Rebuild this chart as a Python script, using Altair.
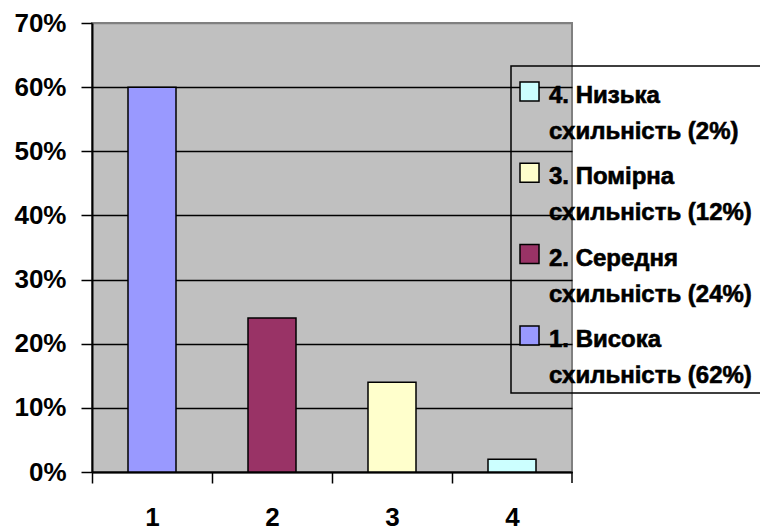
import altair as alt
import pandas as pd

# Bar chart data
categories = ["1", "2", "3", "4"]
shares = [0.60, 0.24, 0.14, 0.02]
bar_colors = ["#9999FF", "#993366", "#FFFFCC", "#CCFFFF"]

# Legend text (two lines per entry)
legend_titles = ["1. Висока", "2. Середня", "3. Помірна", "4. Низька"]
legend_notes = ["схильність (62%)", "схильність (24%)", "схильність (12%)", "схильність (2%)"]

y_ticks = [0.0, 0.1, 0.2, 0.3, 0.4, 0.5, 0.6, 0.7]

FONT = "Liberation Sans"
W, H = 480, 449
STEP = W / len(categories)

df = pd.DataFrame({"category": categories, "share": shares})
one = alt.Data(values=[{}])

bars = alt.Chart(df).mark_bar(stroke="black", strokeWidth=1.5).encode(
    x=alt.X(
        "category:N",
        sort=categories,
        scale=alt.Scale(paddingInner=0.6, paddingOuter=0.3),
        axis=alt.Axis(
            title=None, labelAngle=0, labelFont=FONT, labelFontSize=26,
            labelFontWeight="bold", labelColor="black", labelPadding=21,
            tickOffset=-STEP / 2, labelOffset=STEP / 2, tickSize=11,
            tickColor="black", tickWidth=1.5, domainColor="black", domainWidth=2,
        ),
    ),
    y=alt.Y(
        "share:Q",
        scale=alt.Scale(domain=[0, 0.7], nice=False),
        axis=alt.Axis(
            title=None, values=y_ticks, format=".0%", labelFont=FONT,
            labelFontSize=26, labelFontWeight="bold", labelColor="black",
            labelPadding=15, tickSize=11, tickColor="black", tickWidth=1.5,
            domainColor="black", domainWidth=2, grid=True,
            gridColor={"condition": {"test": "datum.value >= 0.69", "value": "#808080"},
                       "value": "black"},
            gridWidth=1.5,
        ),
    ),
    color=alt.Color("category:N", scale=alt.Scale(domain=categories, range=bar_colors), legend=None),
)

# closing tick at the right end of the category axis
end_tick = alt.Chart(one).mark_rule(color="black", strokeWidth=1.5).encode(
    x=alt.value(W), y=alt.value(H), y2=alt.value(H + 11)
)

# legend frame
layers = [bars, end_tick]
layers.append(
    alt.Chart(one).mark_rect(fillOpacity=0, stroke="black", strokeWidth=1.5).encode(
        x=alt.value(419), x2=alt.value(740), y=alt.value(43), y2=alt.value(370)
    )
)

order = list(reversed(range(len(categories))))
for row, k in enumerate(order):
    top = 59 + row * 81.3
    layers.append(
        alt.Chart(one).mark_rect(stroke="black", strokeWidth=1.5, color=bar_colors[k]).encode(
            x=alt.value(428), x2=alt.value(447), y=alt.value(top), y2=alt.value(top + 19)
        )
    )
    for line, txt in enumerate([legend_titles[k], legend_notes[k]]):
        layers.append(
            alt.Chart(one).mark_text(
                align="left", baseline="alphabetic", font=FONT, fontSize=24,
                fontWeight="bold", fill="black", stroke="black", strokeWidth=0.6,
            ).encode(
                x=alt.value(457), y=alt.value(top + 21 + line * 36),
                text=alt.value(txt),
            )
        )

chart = alt.layer(*layers).properties(
    width=W,
    height=H,
    autosize=alt.AutoSizeParams(type="none"),
    padding={"left": 92, "top": 23, "right": 188, "bottom": 59},
    background="white",
).configure_view(
    fill="#C0C0C0", stroke="#808080", strokeWidth=2
).configure_text(fontWeight="bold")

chart.save("out.html", embed_options={"renderer": "svg", "actions": False})
